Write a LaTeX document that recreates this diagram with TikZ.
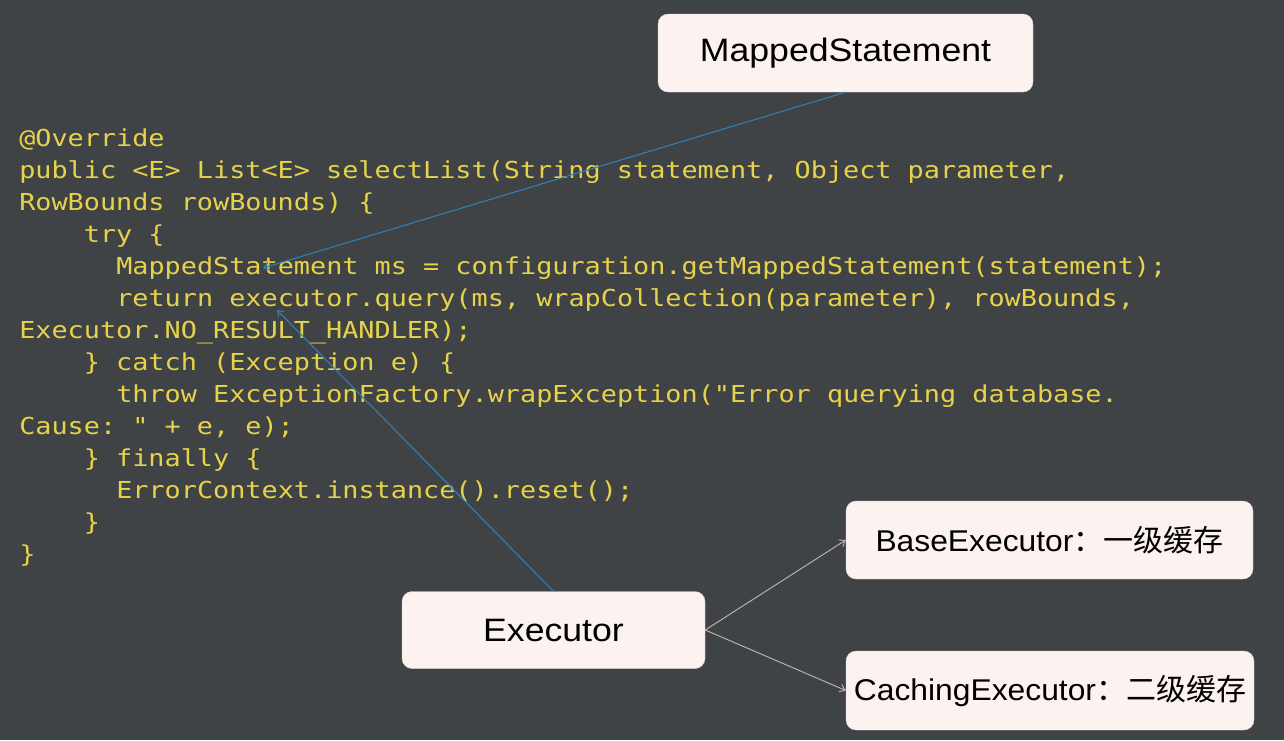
\documentclass[tikz,border=0pt]{standalone}
\usepackage{fontspec}
\usetikzlibrary{arrows.meta}
\newfontfamily\codefont[FakeStretch=1.15]{DejaVu Sans Mono}
\newfontfamily\boxfont[FakeStretch=1.1]{Liberation Sans}
\newfontfamily\boxfontb[FakeStretch=1.06]{Liberation Sans}
\newfontfamily\cjk{Noto Sans CJK SC}
\definecolor{bgc}{HTML}{404345}
\definecolor{codec}{HTML}{E6D34A}
\definecolor{boxc}{HTML}{FCF2EF}
\definecolor{bluec}{HTML}{3080B8}
\definecolor{grayc}{HTML}{B8B8B8}
\tikzset{
  code/.style={anchor=base west, inner sep=0pt, text=codec,
    font=\codefont\fontsize{17.5pt}{20pt}\selectfont\frenchspacing},
  bigbox/.style={fill=boxc, draw=boxc!85!black, line width=0.3pt, rounded corners=7.5pt,
    inner sep=0pt, text=black, font=\boxfont\fontsize{24.3pt}{28pt}\selectfont},
  smallbox/.style={fill=boxc, draw=boxc!85!black, line width=0.3pt, rounded corners=7.5pt,
    inner sep=0pt, text=black, font=\boxfontb\fontsize{22.5pt}{26pt}\selectfont},
  blueline/.style={draw=bluec, line width=0.8pt, -{Straight Barb[length=4pt,width=6pt]}},
  grayline/.style={draw=grayc, line width=0.7pt, -{Straight Barb[length=4pt,width=6pt]}}
}
\begin{document}
\begin{tikzpicture}[x=0.75pt,y=-0.75pt]
\fill[bgc] (0,0) rectangle (1284,740);
\useasboundingbox (0,0) rectangle (1284,740);
% code
\node[code] (c1) at (19,146.5) {@Override};
\node[code] (c2) at (19,178.5) {public <E> List<E> selectList(String statement, Object parameter,};
\node[code] (c3) at (19,210.5) {RowBounds rowBounds) \{};
\node[code] (c4) at (83.6,242.5) {try \{};
\node[code] (c5) at (116,274.5) {MappedStatement ms = configuration.getMappedStatement(statement);};
\node[code] (c6) at (116,306.5) {return executor.query(ms, wrapCollection(parameter), rowBounds,};
\node[code] (c7) at (19,338.5) {Executor.NO\_RESULT\_HANDLER);};
\node[code] (c8) at (83.6,370.5) {\} catch (Exception e) \{};
\node[code] (c9) at (116,402.5) {throw ExceptionFactory.wrapException("Error querying database.};
\node[code] (c10) at (19,434.5) {Cause: " + e, e);};
\node[code] (c11) at (83.6,466.5) {\} finally \{};
\node[code] (c12) at (116,498.5) {ErrorContext.instance().reset();};
\node[code] (c13) at (83.6,530.5) {\}};
\node[code] (c14) at (19,562.5) {\}};
% boxes
\node[bigbox, minimum width=281.25pt, minimum height=58.5pt] (ms) at (845.5,53) {MappedStatement};
\node[bigbox, minimum width=227.25pt, minimum height=57.75pt] (ex) at (553.5,630) {Executor};
\node[smallbox, minimum width=305.25pt, minimum height=58.5pt] (be) at (1049.5,540) {BaseExecutor{\cjk ：一级缓存}};
\node[smallbox, minimum width=306pt, minimum height=59.25pt] (ce) at (1050,690.5) {CachingExecutor{\cjk ：二级缓存}};
% connectors
\coordinate (msword) at (263,268);
\coordinate (exword) at (277,310);
\draw[blueline] (ms.south) -- (msword);
\draw[blueline] (ex.north) -- (exword);
\draw[grayline] (ex.east) -- (be.west);
\draw[grayline] (ex.east) -- (ce.west);
\end{tikzpicture}
\end{document}
